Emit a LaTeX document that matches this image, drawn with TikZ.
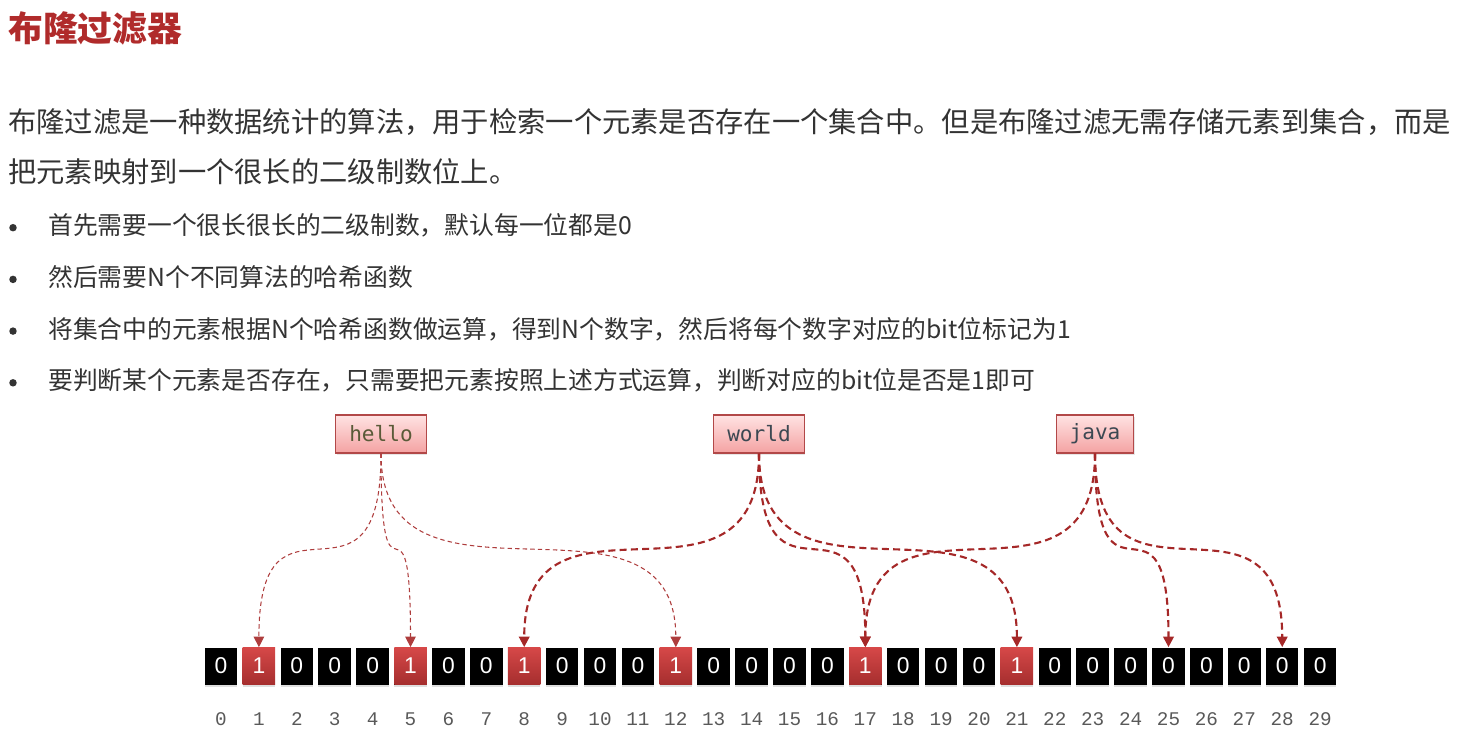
\documentclass[tikz,border=0pt]{standalone}
\usepackage{fontspec}
\setmainfont{Noto Sans CJK SC}
\newfontfamily\wordfont{DejaVu Sans Mono}
\newfontfamily\idxfont{Liberation Mono}
\newfontfamily\bitfont{Liberation Sans}
\usetikzlibrary{arrows.meta,shadows}
\definecolor{titlered}{HTML}{B02B2B}
\definecolor{bodygray}{HTML}{333333}
\definecolor{hashred}{HTML}{A52828}
\definecolor{bittop}{HTML}{D64848}
\definecolor{bitbot}{HTML}{A52E2E}
\definecolor{boxtop}{HTML}{FFE3E3}
\definecolor{boxbot}{HTML}{F4A2A2}
\definecolor{helloink}{HTML}{5A5A38}
\definecolor{wordink}{HTML}{3C4852}

\begin{document}
\begin{tikzpicture}[x=0.02cm,y=-0.02cm,>={Triangle[length=6pt,width=6pt]},
  txt/.style={anchor=west,inner sep=0pt,text=bodygray},
  dotmark/.style={circle,fill=bodygray,inner sep=0pt,minimum size=0.15cm},
  bit0/.style={fill=black,text=white,minimum width=0.65cm,minimum height=0.74cm,inner sep=0pt,
    font=\bitfont\fontsize{13}{13}\selectfont,drop shadow={shadow xshift=0pt,shadow yshift=-1.5pt,opacity=0.25}},
  bit1/.style={bit0,top color=bittop,bottom color=bitbot},
  word/.style={draw=hashred!85,line width=0.6pt,top color=boxtop,bottom color=boxbot,minimum height=0.76cm,
    inner xsep=0.27cm,font=\wordfont\fontsize{12}{12}\selectfont,drop shadow={shadow xshift=0.5pt,shadow yshift=-1pt,opacity=0.2}},
  thinhash/.style={->,hashred!90,line width=0.6pt,dash pattern=on 2.5pt off 1.8pt},
  hash/.style={->,hashred,line width=1.2pt,dash pattern=on 4pt off 2.4pt}]
  \useasboundingbox (0,0) rectangle (1463,740);
  % title and text
  \node[txt,text=titlered,font=\bfseries\fontsize{19.8}{20}\selectfont] (title) at (8,28) {布隆过滤器};
  \node[txt,font=\fontsize{16.1}{17}\selectfont] (para1) at (8,122) {布隆过滤是一种数据统计的算法，用于检索一个元素是否存在一个集合中。但是布隆过滤无需存储元素到集合，而是};
  \node[txt,font=\fontsize{16.1}{17}\selectfont] (para2) at (8,172) {把元素映射到一个很长的二级制数位上。};
  \foreach \t [count=\k] in {首先需要一个很长很长的二级制数，默认每一位都是0,
      然后需要N个不同算法的哈希函数,
      将集合中的元素根据N个哈希函数做运算，得到N个数字，然后将每个数字对应的bit位标记为1,
      要判断某个元素是否存在，只需要把元素按照上述方式运算，判断对应的bit位是否是1即可} {
    \node[dotmark] (dot\k) at (13,{176+51.7*\k}) {};
    \node[txt,font=\fontsize{14.1}{15}\selectfont] (item\k) at (48,{174+51.7*\k}) {\t};
  }
  % bit array
  \foreach \v [count=\i from 0] in {0,1,0,0,0,1,0,0,1,0,0,0,1,0,0,0,0,1,0,0,0,1,0,0,0,0,0,0,0,0} {
    \node[bit\v] (c\i) at ({221+37.9*\i},666) {\v};
    \node[text=black!65,font=\idxfont\fontsize{11}{11}\selectfont,anchor=base] (n\i) at ({221+37.9*\i},725) {\i};
  }
  % elements
  \node[word,text=helloink] (hello) at (381,434) {hello};
  \node[word,text=wordink] (world) at (759,434) {world};
  \node[word,text=wordink] (java) at (1095,434) {java};
  % hash functions
  \foreach \t in {1,5,12}
    \draw[thinhash] (hello.south) .. controls +(0,180) and +(0,-180) .. (c\t.north);
  \foreach \t in {8,17,21}
    \draw[hash] (world.south) .. controls +(0,180) and +(0,-180) .. (c\t.north);
  \foreach \t in {17,25,28}
    \draw[hash] (java.south) .. controls +(0,180) and +(0,-180) .. (c\t.north);
\end{tikzpicture}
\end{document}
